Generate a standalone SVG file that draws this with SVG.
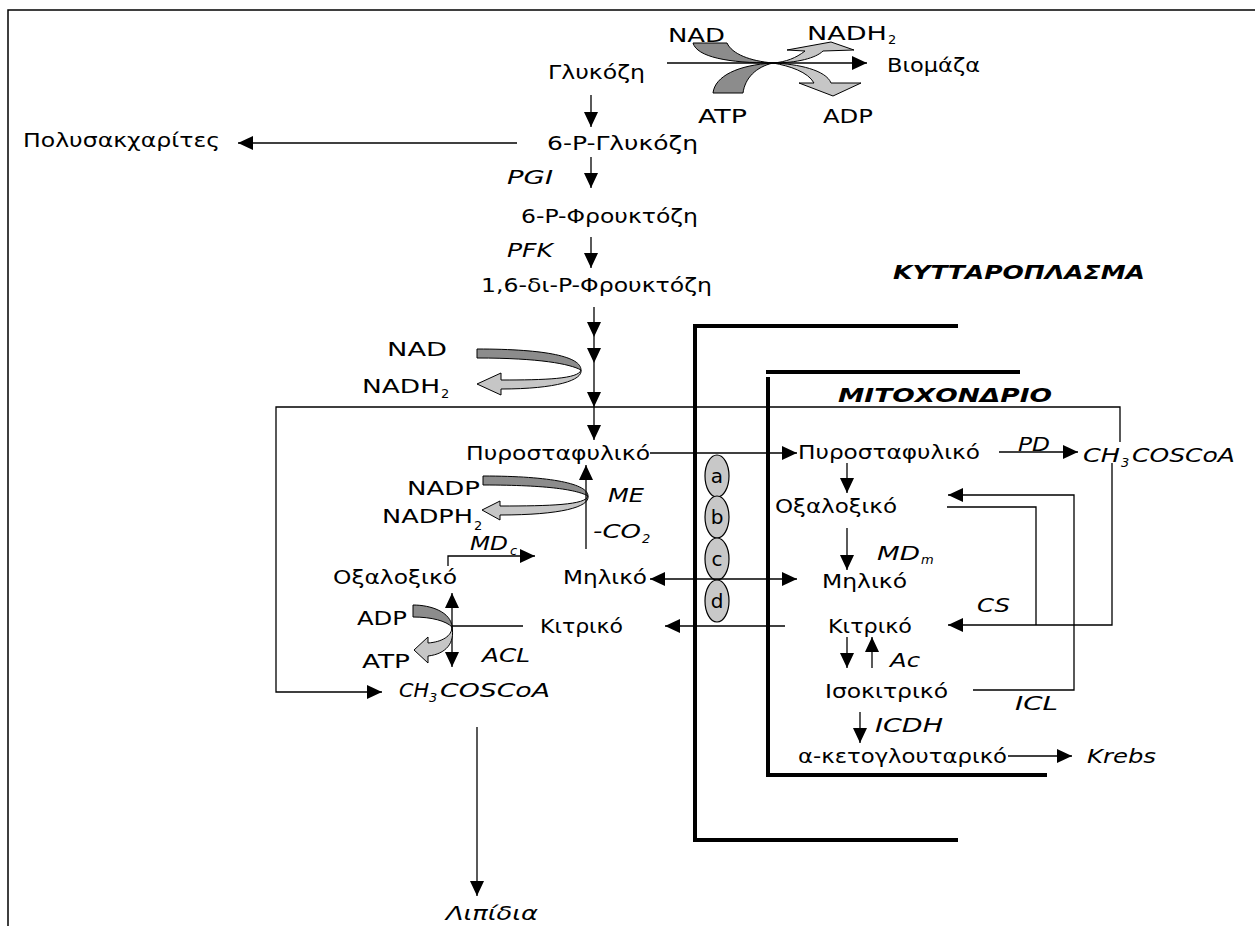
<svg xmlns="http://www.w3.org/2000/svg" width="1255" height="926" viewBox="0 0 1255 926">
<style>
text{font-family:"DejaVu Sans","Liberation Sans",sans-serif;font-size:20px;fill:#000}
.i{font-style:italic}
.b{font-style:italic;font-weight:bold}
.s{font-size:13px}
.c{fill:none;stroke:#000;stroke-width:1.3}
.m{fill:none;stroke:#000;stroke-width:4}
.dk{fill:#8c8c8c;stroke:#000;stroke-width:1}
.lt{fill:#c6c6c6;stroke:#000;stroke-width:1}
.tr{fill:#c8c8c8;stroke:#000;stroke-width:1.2}
</style>
<defs>
<marker id="ah" markerUnits="userSpaceOnUse" markerWidth="16" markerHeight="15" refX="15" refY="7" orient="auto-start-reverse">
<path d="M0,0 L15,7 L0,14 Z" fill="#000"/>
</marker>
</defs>

<g id="frame"><path d="M8,926 V10 H1255" fill="none" stroke="#000" stroke-width="1.5"/></g>

<g id="membranes">
<path class="m" d="M958,326 H695 V840 H958"/>
<path class="m" d="M766,372 H1020"/>
<path class="m" d="M768,377 V775 H1047"/>
</g>

<g id="transporters">
<ellipse class="tr" cx="717" cy="476" rx="12" ry="21"/>
<ellipse class="tr" cx="717" cy="517" rx="12" ry="21"/>
<ellipse class="tr" cx="717" cy="559" rx="12" ry="21"/>
<ellipse class="tr" cx="717" cy="601" rx="12" ry="21"/>
<text x="717" y="483" text-anchor="middle">a</text>
<text x="717" y="524" text-anchor="middle">b</text>
<text x="717" y="566" text-anchor="middle">c</text>
<text x="717" y="608" text-anchor="middle">d</text>
</g>

<g id="ribbons">
<path class="dk" d="M693,43 C697,57 728,63 773,63 C750,61 732,54 727,43 Z"/>
<path class="lt" d="M773,63 C797,63 816,58 823,51 L854,50 L831,42 L787,50 L805,51 C796,58 786,62 773,63 Z"/>
<path class="dk" d="M713,93 C715,76 738,65 773,63 C756,67 745,78 743,93 Z"/>
<path class="lt" d="M773,63 C798,64 826,70 831,83 L861,83 L833,96 L799,83 L814,83 C808,72 790,66 773,63 Z"/>
<path class="dk" d="M477,349 C548,349 581,357 581,370 C570,364 540,358 477,358 Z"/>
<path class="lt" d="M581,370 C579,379 545,380 501,380 L501,373 L477,384 L501,395 L501,389 C557,389 583,380 581,370 Z"/>
<path class="dk" d="M483,476 C552,476 588,484 588,496 C577,490 550,485 483,485 Z"/>
<path class="lt" d="M588,496 C586,505 550,506 500,506 L500,501 L482,510 L500,520 L500,515 C561,515 590,507 588,496 Z"/>
</g>

<g id="connectors">
<line class="c" x1="667" y1="63" x2="867" y2="63" marker-end="url(#ah)"/>
<line class="c" x1="591" y1="95" x2="591" y2="127" marker-end="url(#ah)"/>
<line class="c" x1="517" y1="143" x2="238" y2="143" marker-end="url(#ah)"/>
<line class="c" x1="591" y1="157" x2="591" y2="188" marker-end="url(#ah)"/>
<line class="c" x1="591" y1="237" x2="591" y2="268" marker-end="url(#ah)"/>
<line class="c" x1="594" y1="307" x2="594" y2="337" marker-end="url(#ah)"/>
<line class="c" x1="594" y1="337" x2="594" y2="363" marker-end="url(#ah)"/>
<line class="c" x1="594" y1="363" x2="594" y2="407" marker-end="url(#ah)"/>
<line class="c" x1="594" y1="407" x2="594" y2="440" marker-end="url(#ah)"/>
<path class="c" d="M1120,442 V407 H276 V692 H382" marker-end="url(#ah)"/>
<line class="c" x1="650" y1="453" x2="797" y2="453" marker-end="url(#ah)"/>
<line class="c" x1="586" y1="549" x2="586" y2="465" marker-end="url(#ah)"/>
<path class="c" d="M448,566 V556 H535" marker-end="url(#ah)"/>
<line class="c" x1="650" y1="579" x2="797" y2="579" marker-start="url(#ah)" marker-end="url(#ah)"/>
<line class="c" x1="452" y1="626" x2="452" y2="593" marker-end="url(#ah)"/>
<line class="c" x1="452" y1="626" x2="452" y2="667" marker-end="url(#ah)"/>
<line class="c" x1="452" y1="626" x2="523" y2="626"/>
<line class="c" x1="785" y1="626" x2="665" y2="626" marker-end="url(#ah)"/>
<line class="c" x1="477" y1="727" x2="477" y2="896" marker-end="url(#ah)"/>
<line class="c" x1="847" y1="463" x2="847" y2="493" marker-end="url(#ah)"/>
<line class="c" x1="847" y1="528" x2="847" y2="570" marker-end="url(#ah)"/>
<line class="c" x1="999" y1="452" x2="1078" y2="452" marker-end="url(#ah)"/>
<path class="c" d="M1112,463 V625 H948" marker-end="url(#ah)"/>
<path class="c" d="M947,507 H1036 V625"/>
<path class="c" d="M973,690 H1074 V495 H948" marker-end="url(#ah)"/>
<line class="c" x1="847" y1="637" x2="847" y2="668" marker-end="url(#ah)"/>
<line class="c" x1="872" y1="668" x2="872" y2="637" marker-end="url(#ah)"/>
<line class="c" x1="860" y1="712" x2="860" y2="743" marker-end="url(#ah)"/>
<line class="c" x1="1008" y1="756" x2="1072" y2="756" marker-end="url(#ah)"/>
</g>

<g id="adp-atp-ribbon">
<path class="dk" d="M413,605 C431,605 451,612 452,627 C446,621 432,617 413,617 Z"/>
<path class="lt" d="M452,627 C452,636 442,642 428,643 L428,637 L414,650 L428,663 L428,656 C446,654 455,643 452,627 Z"/>
</g>

<g id="n-glucose"><text x="548" y="79" textLength="97" lengthAdjust="spacingAndGlyphs">Γλυκόζη</text></g>
<g id="n-g6p"><text x="547" y="150" textLength="151" lengthAdjust="spacingAndGlyphs">6-P-Γλυκόζη</text></g>
<g id="n-polysacch"><text x="23" y="147" textLength="197" lengthAdjust="spacingAndGlyphs">Πολυσακχαρίτες</text></g>
<g id="n-f6p"><text x="521" y="223" textLength="177" lengthAdjust="spacingAndGlyphs">6-P-Φρουκτόζη</text></g>
<g id="n-fbp"><text x="481" y="292" textLength="231" lengthAdjust="spacingAndGlyphs">1,6-δι-P-Φρουκτόζη</text></g>
<g id="n-biomass"><text x="887" y="72" textLength="93" lengthAdjust="spacingAndGlyphs">Βιομάζα</text></g>
<g id="l-top">
<text x="668" y="42" textLength="57" lengthAdjust="spacingAndGlyphs">NAD</text>
<text x="807" y="40" textLength="80" lengthAdjust="spacingAndGlyphs">NADH</text><text class="s" x="888" y="44">2</text>
<text x="698" y="123" textLength="49" lengthAdjust="spacingAndGlyphs">ATP</text>
<text x="823" y="123" textLength="50" lengthAdjust="spacingAndGlyphs">ADP</text>
</g>
<g id="l-enz-top">
<text class="i" x="507" y="184" textLength="46" lengthAdjust="spacingAndGlyphs">PGI</text>
<text class="i" x="507" y="257" textLength="46" lengthAdjust="spacingAndGlyphs">PFK</text>
</g>
<g id="l-cyto"><text class="b" x="893" y="279" textLength="252" lengthAdjust="spacingAndGlyphs">ΚΥΤΤΑΡΟΠΛΑΣΜΑ</text></g>
<g id="l-mito"><text class="b" x="838" y="402" textLength="214" lengthAdjust="spacingAndGlyphs">ΜΙΤΟΧΟΝΔΡΙΟ</text></g>
<g id="l-nad-mid">
<text x="387" y="356" textLength="60" lengthAdjust="spacingAndGlyphs">NAD</text>
<text x="362" y="393" textLength="78" lengthAdjust="spacingAndGlyphs">NADH</text><text class="s" x="441" y="398">2</text>
</g>
<g id="n-pyr-c"><text x="466" y="460" textLength="184" lengthAdjust="spacingAndGlyphs">Πυροσταφυλικό</text></g>
<g id="l-nadp">
<text x="407" y="495" textLength="73" lengthAdjust="spacingAndGlyphs">NADP</text>
<text x="382" y="523" textLength="91" lengthAdjust="spacingAndGlyphs">NADPH</text><text class="s" x="474" y="530">2</text>
</g>
<g id="l-me">
<text class="i" x="608" y="502" textLength="36" lengthAdjust="spacingAndGlyphs">ME</text>
<text class="i" x="593" y="538" textLength="48" lengthAdjust="spacingAndGlyphs">-CO</text><text class="s i" x="642" y="543">2</text>
</g>
<g id="l-mdc"><text class="i" x="470" y="550" textLength="38" lengthAdjust="spacingAndGlyphs">MD</text><text class="s i" x="510" y="555">c</text></g>
<g id="n-oaa-c"><text x="333" y="584" textLength="124" lengthAdjust="spacingAndGlyphs">Οξαλοξικό</text></g>
<g id="n-mal-c"><text x="563" y="584" textLength="84" lengthAdjust="spacingAndGlyphs">Μηλικό</text></g>
<g id="n-cit-c"><text x="540" y="633" textLength="83" lengthAdjust="spacingAndGlyphs">Κιτρικό</text></g>
<g id="l-adp-atp">
<text x="357" y="625" textLength="50" lengthAdjust="spacingAndGlyphs">ADP</text>
<text x="362" y="668" textLength="48" lengthAdjust="spacingAndGlyphs">ATP</text>
<text class="i" x="482" y="662" textLength="48" lengthAdjust="spacingAndGlyphs">ACL</text>
</g>
<g id="n-accoa-c">
<text class="i" x="399" y="697" textLength="30" lengthAdjust="spacingAndGlyphs">CH</text><text class="s i" x="429" y="702">3</text><text class="i" x="440" y="697" textLength="110" lengthAdjust="spacingAndGlyphs">COSCoA</text>
</g>
<g id="n-lipids"><text x="446" y="920" font-family="Noto Sans, sans-serif" font-style="italic" textLength="92" lengthAdjust="spacingAndGlyphs">Λιπίδια</text></g>
<g id="n-pyr-m"><text x="798" y="459" textLength="182" lengthAdjust="spacingAndGlyphs">Πυροσταφυλικό</text></g>
<g id="l-pd"><text class="i" x="1018" y="451" textLength="32" lengthAdjust="spacingAndGlyphs">PD</text></g>
<g id="n-accoa-m">
<text class="i" x="1083" y="462" textLength="37" lengthAdjust="spacingAndGlyphs">CH</text><text class="s i" x="1121" y="467">3</text><text class="i" x="1132" y="462" textLength="103" lengthAdjust="spacingAndGlyphs">COSCoA</text>
</g>
<g id="n-oaa-m"><text x="775" y="513" textLength="122" lengthAdjust="spacingAndGlyphs">Οξαλοξικό</text></g>
<g id="l-mdm"><text class="i" x="877" y="560" textLength="43" lengthAdjust="spacingAndGlyphs">MD</text><text class="s i" x="921" y="564">m</text></g>
<g id="n-mal-m"><text x="822" y="588" textLength="85" lengthAdjust="spacingAndGlyphs">Μηλικό</text></g>
<g id="l-cs"><text class="i" x="977" y="612" textLength="33" lengthAdjust="spacingAndGlyphs">CS</text></g>
<g id="n-cit-m"><text x="828" y="633" textLength="84" lengthAdjust="spacingAndGlyphs">Κιτρικό</text></g>
<g id="l-ac"><text class="i" x="890" y="667" textLength="30" lengthAdjust="spacingAndGlyphs">Ac</text></g>
<g id="n-isocit"><text x="825" y="698" textLength="123" lengthAdjust="spacingAndGlyphs">Ισοκιτρικό</text></g>
<g id="l-icl"><text class="i" x="1015" y="710" textLength="43" lengthAdjust="spacingAndGlyphs">ICL</text></g>
<g id="l-icdh"><text class="i" x="875" y="732" textLength="68" lengthAdjust="spacingAndGlyphs">ICDH</text></g>
<g id="n-akg"><text x="798" y="763" textLength="209" lengthAdjust="spacingAndGlyphs">α-κετογλουταρικό</text></g>
<g id="n-krebs"><text class="i" x="1087" y="763" textLength="69" lengthAdjust="spacingAndGlyphs">Krebs</text></g>
</svg>
